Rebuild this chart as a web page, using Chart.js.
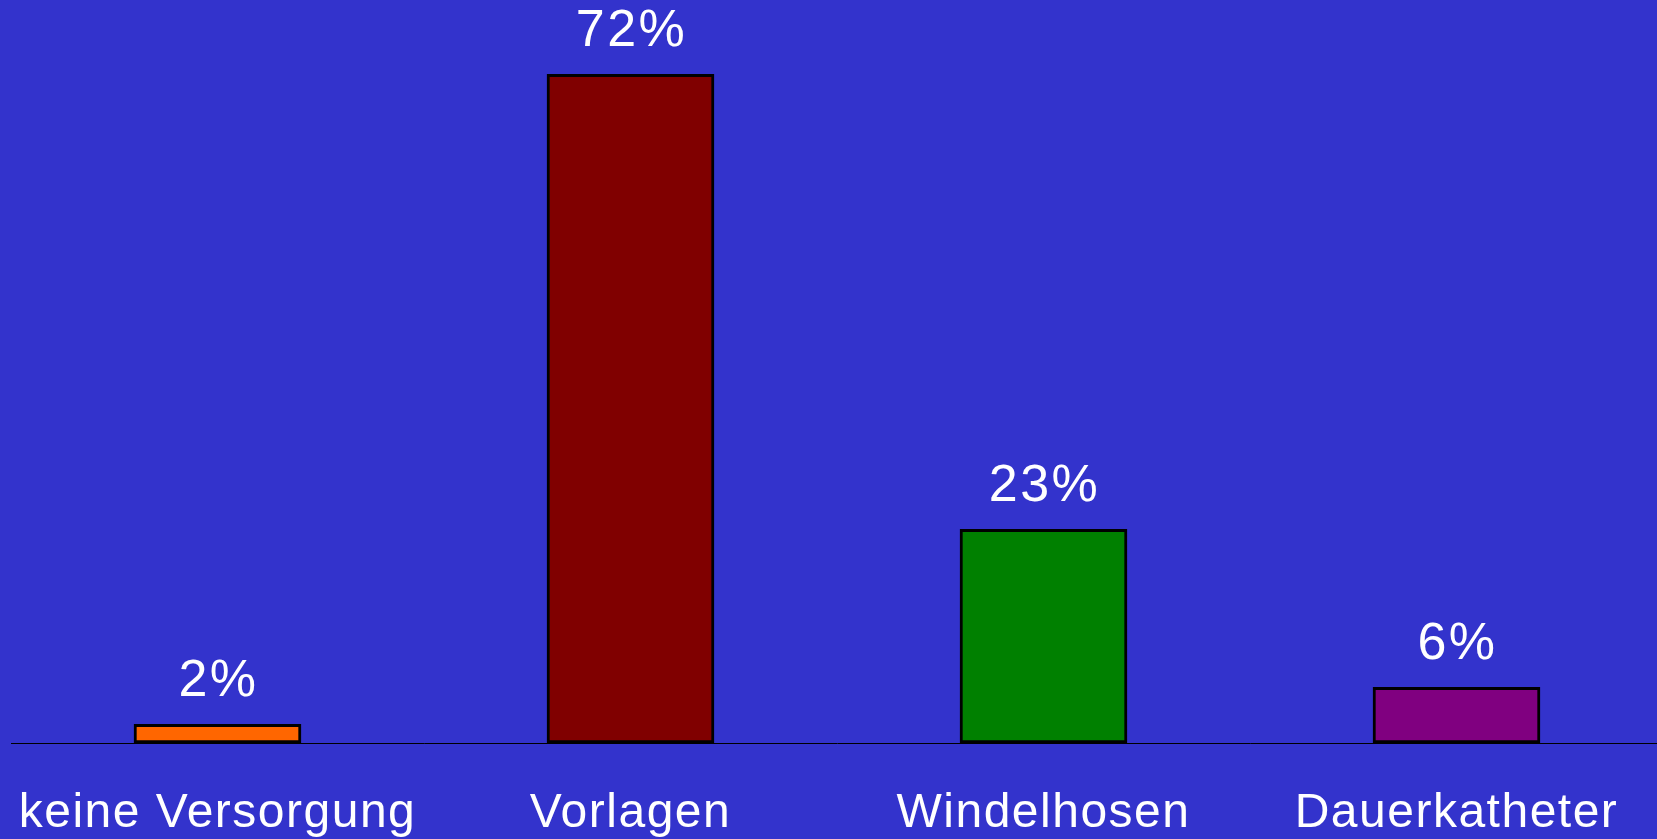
<!DOCTYPE html>
<html>
<head>
<meta charset="utf-8">
<script src="https://cdn.jsdelivr.net/npm/chart.js@4/dist/chart.umd.min.js"></script>
<style>
    html, body { margin: 0; padding: 0; background: #3333cc; overflow: hidden; }
    #wrap { width: 1663px; height: 839px; }
</style>
</head>
<body>
<div id="wrap"><canvas id="versorgungChart" width="1663" height="839"></canvas></div>
<script>
// Data
const categories = ['keine Versorgung', 'Vorlagen', 'Windelhosen', 'Dauerkatheter'];
const percentValues = [2, 72, 23, 6];
const barColors = ['#ff6600', '#800000', '#008000', '#800080'];

const FONT = '"Liberation Sans", Arial, sans-serif';

// Draws the percentage above each bar
const valueLabels = {
    id: 'valueLabels',
    afterDatasetsDraw(chart) {
        const ctx = chart.ctx;
        const meta = chart.getDatasetMeta(0);
        ctx.save();
        ctx.fillStyle = '#ffffff';
        ctx.font = `52px ${FONT}`;
        ctx.letterSpacing = '2.5px';
        ctx.textAlign = 'center';
        ctx.textBaseline = 'alphabetic';
        meta.data.forEach((bar, i) => {
            ctx.fillText(percentValues[i] + '%', bar.x + 1, bar.y - 28);
        });
        ctx.restore();
    }
};

// Wider letter spacing for the category labels
const spacing = {
    id: 'spacing',
    beforeDraw(chart) {
        chart.ctx.letterSpacing = '1.5px';
    }
};

new Chart(document.getElementById('versorgungChart').getContext('2d'), {
    type: 'bar',
    data: {
        labels: categories,
        datasets: [{
            data: percentValues,
            backgroundColor: barColors,
            borderColor: '#000000',
            borderWidth: 3,
            borderSkipped: false,
            barThickness: 167
        }]
    },
    options: {
        responsive: false,
        animation: false,
        devicePixelRatio: 1,
        layout: {
            padding: { left: 11, right: 0, top: 0, bottom: 0 }
        },
        plugins: {
            legend: { display: false },
            tooltip: { enabled: false }
        },
        scales: {
            y: {
                display: false,
                min: 0,
                max: 80
            },
            x: {
                grid: { display: false, drawTicks: false },
                border: { display: true, color: '#000000', width: 1 },
                ticks: {
                    color: '#ffffff',
                    font: { family: FONT, size: 48 },
                    padding: 42,
                    maxRotation: 0,
                    autoSkip: false
                },
                afterFit: (scale) => {
                    scale.height = 96;
                    // keep the long first label from pushing the plot inward
                    scale.paddingLeft = 0;
                    scale.paddingRight = 0;
                }
            }
        }
    },
    plugins: [valueLabels, spacing]
});
</script>
</body>
</html>
